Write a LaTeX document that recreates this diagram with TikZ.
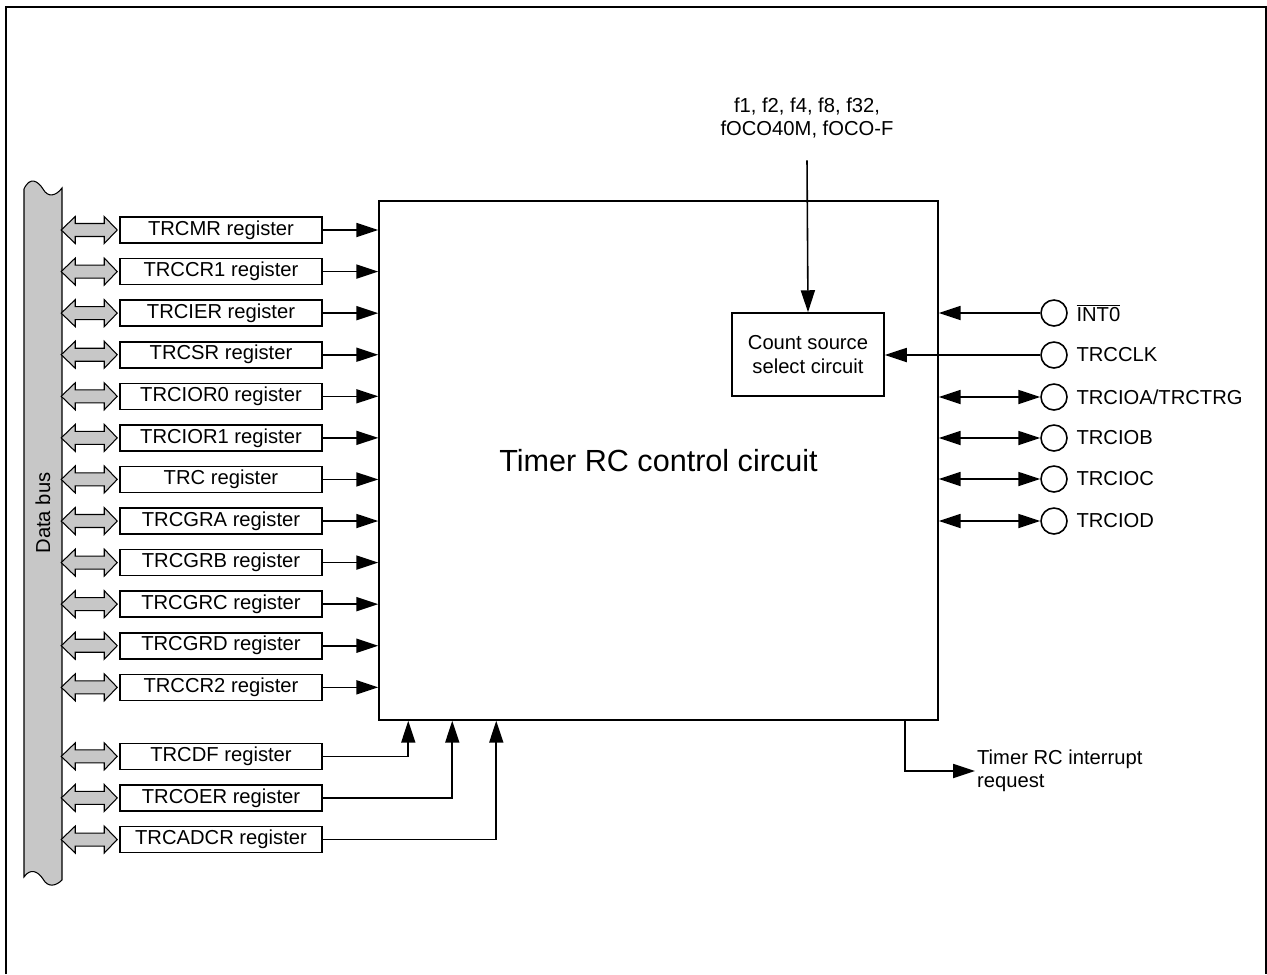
\documentclass[tikz,border=0pt]{standalone}
\usepackage{fontspec}
\setmainfont{Liberation Sans}
\usetikzlibrary{arrows.meta,positioning,calc}
\tikzset{
    regbox/.style={rectangle,draw,line width=0.9pt,minimum width=4.04cm,minimum height=0.52cm,inner sep=0pt,font=\fontsize{11.5}{13.5}\selectfont},
    ctrlbox/.style={rectangle,draw,line width=0.9pt,minimum width=11.18cm,minimum height=10.38cm,font=\fontsize{17.4}{20}\selectfont},
    selbox/.style={rectangle,draw,line width=0.9pt,minimum width=3.04cm,minimum height=1.66cm,align=center,font=\fontsize{11.5}{13.6}\selectfont},
    pin/.style={circle,draw,line width=0.9pt,minimum size=0.52cm,inner sep=0pt},
    pinlabel/.style={font=\fontsize{11.5}{13.5}\selectfont,label distance=0.5mm},
    plaintext/.style={align=left,inner sep=1pt,font=\fontsize{11.5}{13.2}\selectfont},
    sigline/.style={-{Triangle[length=12.5pt,width=8pt]},line width=0.9pt},
    sigboth/.style={{Triangle[length=12.5pt,width=8pt]}-{Triangle[length=12.5pt,width=8pt]},line width=0.9pt},
    busfill/.style={fill=black!22,draw,line width=0.6pt}
}
% hollow two-way arrow between data bus and a register
\newcommand{\busarrow}[1]{%
  \filldraw[busfill] ($(#1.west)+(-58,0)$) -- ++(14,-13.5) -- ++(0,7) -- ++(29,0) -- ++(0,-7)
    -- ++(13,13.5) -- ++(-13,13.5) -- ++(0,-7) -- ++(-29,0) -- ++(0,7) -- cycle;}
\begin{document}
\begin{tikzpicture}[x=0.02cm,y=-0.02cm,node distance=2.8mm]
    \useasboundingbox (0,0) rectangle (1267,974);
    % frame
    \draw[line width=1.6pt] (6,974) -- (6,7) -- (1266,7) -- (1266,974);

    % data bus
    \filldraw[busfill] (24,189) .. controls (30,176) and (38,181) .. (43,189)
        .. controls (48,198) and (56,196) .. (62,188) -- (62,880)
        .. controls (56,886) and (48,888) .. (43,879)
        .. controls (38,871) and (30,868) .. (24,877) -- cycle;
    \node[rotate=90,font=\fontsize{11.5}{13.5}\selectfont] (bus) at (43,513) {Data bus};

    % control block
    \node[ctrlbox] (ctrl) at (658.5,460.5) {Timer RC control circuit};
    \node[selbox] (sel) at (808,354.5) {Count source\\select circuit};
    \node[plaintext,align=center] (clk) at (807,118) {f1, f2, f4, f8, f32,\\fOCO40M, fOCO-F};
    \draw[sigline] ([yshift=-4mm]clk.south) -- (sel.north);

    % registers
    \node[regbox] (rmr) at (221,230) {TRCMR register};
    \node[regbox,below=of rmr] (rccr1) {TRCCR1 register};
    \node[regbox,below=of rccr1] (rier) {TRCIER register};
    \node[regbox,below=of rier] (rsr) {TRCSR register};
    \node[regbox,below=of rsr] (rior0) {TRCIOR0 register};
    \node[regbox,below=of rior0] (rior1) {TRCIOR1 register};
    \node[regbox,below=of rior1] (rtrc) {TRC register};
    \node[regbox,below=of rtrc] (rgra) {TRCGRA register};
    \node[regbox,below=of rgra] (rgrb) {TRCGRB register};
    \node[regbox,below=of rgrb] (rgrc) {TRCGRC register};
    \node[regbox,below=of rgrc] (rgrd) {TRCGRD register};
    \node[regbox,below=of rgrd] (rccr2) {TRCCR2 register};
    \node[regbox,below=8.3mm of rccr2] (rdf) {TRCDF register};
    \node[regbox,below=of rdf] (roer) {TRCOER register};
    \node[regbox,below=of roer] (radcr) {TRCADCR register};

    \foreach \r in {rmr,rccr1,rier,rsr,rior0,rior1,rtrc,rgra,rgrb,rgrc,rgrd,rccr2}{
        \busarrow{\r}
        \draw[sigline] (\r.east) -- (\r.east -| ctrl.west);
    }
    \foreach \r in {rdf,roer,radcr}{\busarrow{\r}}
    \draw[sigline] (rdf.east) -| ($(ctrl.south west)+(30,0)$);
    \draw[sigline] (roer.east) -| ($(ctrl.south west)+(74,0)$);
    \draw[sigline] (radcr.east) -| ($(ctrl.south west)+(118,0)$);

    % pins
    \node[pin,label={[pinlabel]right:$\overline{\mbox{INT0}}$}] (pint) at (1054,313) {};
    \node[pin,label={[pinlabel]right:TRCCLK}] (pclk) at (1054,355) {};
    \node[pin,label={[pinlabel]right:TRCIOA/TRCTRG}] (pioa) at (1054,397) {};
    \node[pin,label={[pinlabel]right:TRCIOB}] (piob) at (1054,438) {};
    \node[pin,label={[pinlabel]right:TRCIOC}] (pioc) at (1054,479) {};
    \node[pin,label={[pinlabel]right:TRCIOD}] (piod) at (1054,521) {};
    \draw[sigline] (pint.west) -- (pint.west -| ctrl.east);
    \draw[sigline] (pclk.west) -- (pclk.west -| sel.east);
    \foreach \p in {pioa,piob,pioc,piod}{
        \draw[sigboth] (\p.west -| ctrl.east) -- (\p.west);
    }

    % interrupt
    \node[plaintext,anchor=west] (irq) at (975,771) {Timer RC interrupt\\request};
    \draw[sigline] ($(ctrl.south east)+(-34,0)$) |- (irq.west);
\end{tikzpicture}
\end{document}
